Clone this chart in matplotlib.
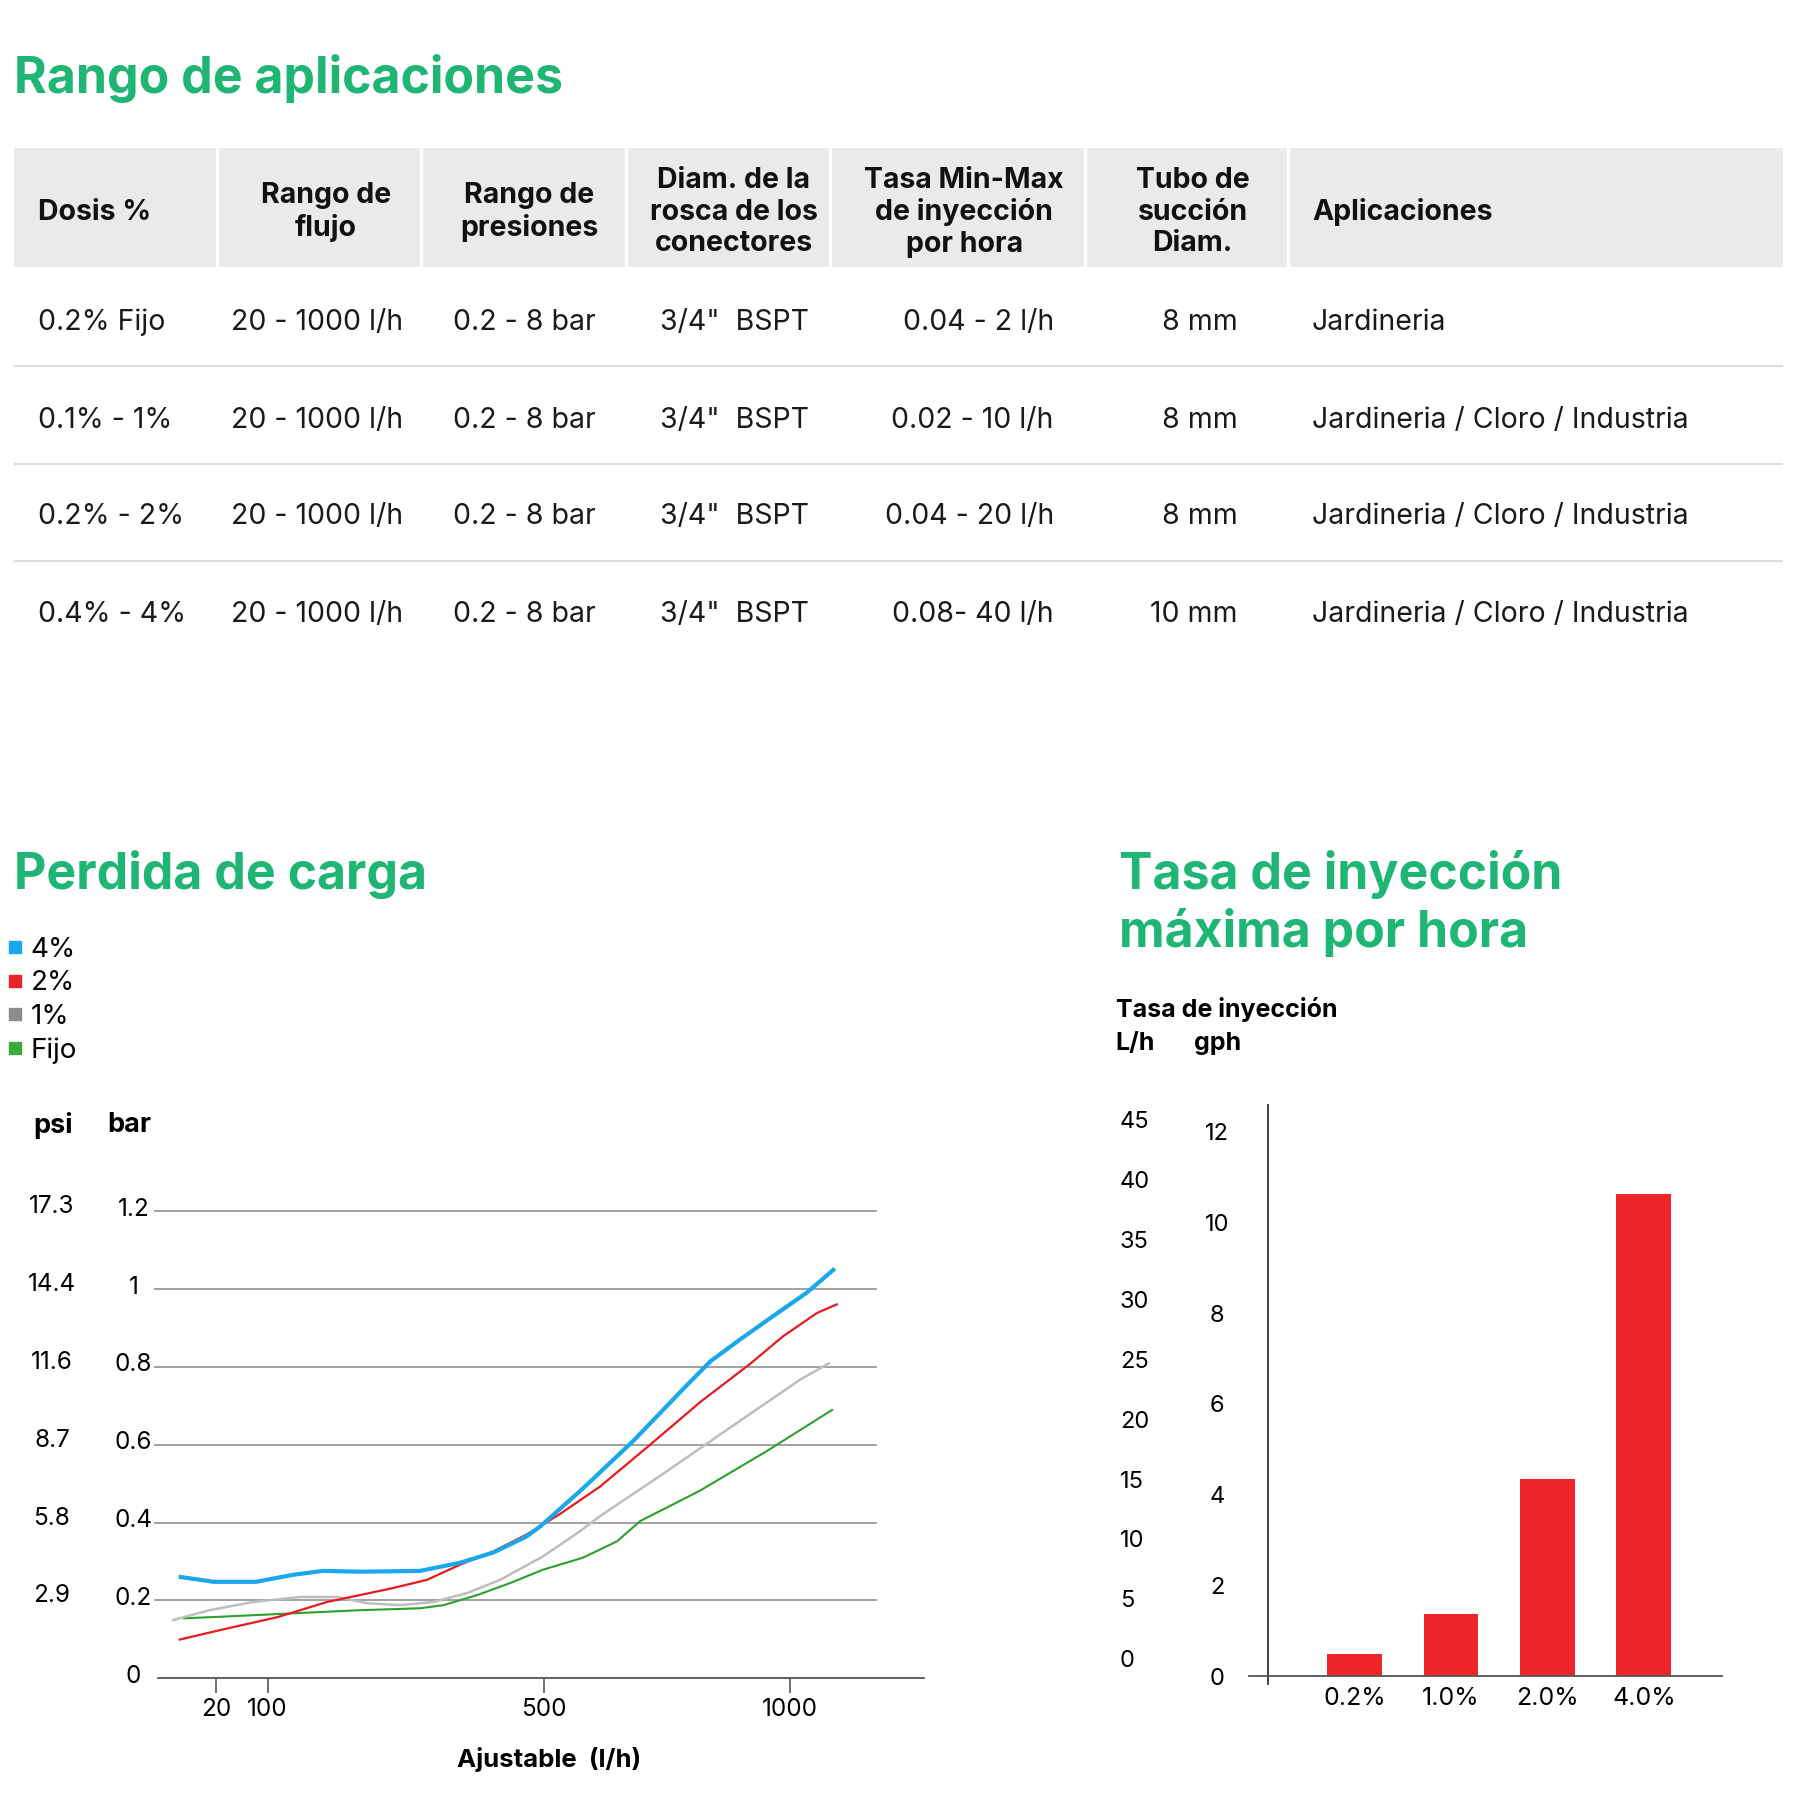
import numpy as np
import matplotlib.pyplot as plt
from matplotlib.lines import Line2D
from matplotlib.patches import Rectangle
from matplotlib.transforms import ScaledTranslation

plt.rcParams['font.family'] = ['Inter', 'DejaVu Sans']

verde = '#1fb574'
S = 1568.0  # coordenadas de la maqueta (se escalan a 1800 px)

# ---- tabla "Rango de aplicaciones"
cabeceras = ['Dosis %', 'Rango de\nflujo', 'Rango de\npresiones',
             'Diam. de la\nrosca de los\nconectores',
             'Tasa Min-Max\nde inyección\npor hora', 'Tubo de\nsucción\nDiam.',
             'Aplicaciones']
dosis = ['0.2% Fijo', '0.1% - 1%', '0.2% - 2%', '0.4% - 4%']
flujo = ['20 - 1000 l/h', '20 - 1000 l/h', '20 - 1000 l/h', '20 - 1000 l/h']
presion = ['0.2 - 8 bar', '0.2 - 8 bar', '0.2 - 8 bar', '0.2 - 8 bar']
rosca = ['3/4"  BSPT', '3/4"  BSPT', '3/4"  BSPT', '3/4"  BSPT']
tasa = ['0.04 - 2 l/h', '0.02 - 10 l/h', '0.04 - 20 l/h', '0.08- 40 l/h']
tubo = ['8 mm', '8 mm', '8 mm', '10 mm']
aplicaciones = ['Jardineria', 'Jardineria / Cloro / Industria',
                'Jardineria / Cloro / Industria', 'Jardineria / Cloro / Industria']

# ---- "Perdida de carga" (caudal l/h, perdida bar)
q_4 = [3, 19, 82, 137, 180, 234, 321, 379, 427, 476, 495, 533, 580, 682, 783, 838, 899, 966, 1034, 1091]
p_4 = [0.261, 0.248, 0.248, 0.266, 0.276, 0.274, 0.276, 0.297, 0.323, 0.365, 0.39, 0.435, 0.488,
       0.610, 0.743, 0.814, 0.871, 0.931, 0.991, 1.053]
q_2 = [3, 37, 114, 186, 234, 282, 331, 379, 427, 476, 533, 615, 716, 817, 919, 986, 1055, 1097]
p_2 = [0.099, 0.128, 0.157, 0.196, 0.214, 0.232, 0.253, 0.292, 0.326, 0.370, 0.422, 0.493,
       0.600, 0.709, 0.808, 0.879, 0.939, 0.962]
q_1 = [0, 17, 77, 147, 201, 244, 292, 340, 389, 437, 499, 574, 615, 750, 884, 1020, 1081]
p_1 = [0.149, 0.175, 0.196, 0.209, 0.209, 0.193, 0.188, 0.196, 0.219, 0.253, 0.313, 0.378,
       0.417, 0.532, 0.649, 0.767, 0.811]
q_fijo = [5, 37, 137, 234, 321, 355, 404, 452, 499, 580, 649, 696, 817, 953, 1087]
p_fijo = [0.154, 0.159, 0.167, 0.175, 0.180, 0.188, 0.214, 0.245, 0.279, 0.310, 0.352, 0.404,
          0.482, 0.584, 0.691]
series = [('4%', q_4, p_4, '#1aa7ec', 3.0, '#1aa7ec'),
          ('2%', q_2, p_2, '#e8191f', 1.6, '#e8232a'),
          ('1%', q_1, p_1, '#bdbdbd', 1.8, '#8c8c8c'),
          ('Fijo', q_fijo, p_fijo, '#2ca02c', 1.5, '#3aaa3a')]
bar_ticks = [0, 0.2, 0.4, 0.6, 0.8, 1.0, 1.2]
bar_labels = ['0', '0.2', '0.4', '0.6', '0.8', '1', '1.2']
psi_labels = ['2.9', '5.8', '8.7', '11.6', '14.4', '17.3']
caudal_ticks = [20, 100, 500, 1000]

# ---- "Tasa de inyección máxima por hora"
dosis_barras = ['0.2%', '1.0%', '2.0%', '4.0%']
tasa_lh = [1.8, 5.2, 16.4, 40.2]
lh_ticks = [0, 5, 10, 15, 20, 25, 30, 35, 40, 45]
gph_ticks = [0, 2, 4, 6, 8, 10, 12]


def caja(x0, y0, x1, y1):
    return [x0 / S, 1 - y1 / S, (x1 - x0) / S, (y1 - y0) / S]


fig = plt.figure(figsize=(18, 18), dpi=100)
fondo = fig.add_axes([0, 0, 1, 1])
fondo.set_xlim(0, S)
fondo.set_ylim(S, 0)
fondo.axis('off')

# titulos
fondo.text(12, 68, 'Rango de aplicaciones', color=verde, fontsize=36, weight='bold', va='center')
fondo.text(12, 762, 'Perdida de carga', color=verde, fontsize=36, weight='bold', va='center')
fondo.text(975, 762, 'Tasa de inyección', color=verde, fontsize=36, weight='bold', va='center')
fondo.text(975, 812, 'máxima por hora', color=verde, fontsize=36, weight='bold', va='center')

# tabla
fondo.add_patch(Rectangle((12, 129), 1541, 104, color='#e9eaeb', lw=0))
fondo.vlines([189, 367, 545, 723, 945, 1122], 129, 233, color='white', lw=2.5)
fondo.hlines([319, 404, 489], 12, 1553, color='#dcdcdc', lw=1.5)
cab_x = [33, 284, 461, 639, 840, 1039, 1143]
cab_ha = ['left', 'center', 'center', 'center', 'center', 'center', 'left']
for x, h, t in zip(cab_x, cab_ha, cabeceras):
    fondo.text(x, 185, t, ha=h, va='center', ma='center', fontsize=20.5, weight='bold',
               linespacing=1.22, color='#111111')
columnas = [(dosis, 33, 'left'), (flujo, 276, 'center'), (presion, 457, 'center'),
            (rosca, 640, 'center'), (tasa, 918, 'right'), (tubo, 1078, 'right'),
            (aplicaciones, 1143, 'left')]
filas_y = [281, 366, 450, 535]
for textos, x, h in columnas:
    for y, t in zip(filas_y, textos):
        fondo.text(x, y, t, ha=h, va='center', fontsize=20.5, color='#1a1a1a')

# ---- grafico de lineas
pos_ancla = [62, 172, 216, 267.5, 543.5, 790, 1036.5]
flujo_ancla = [-50, 0, 20, 100, 500, 1000, 1500]


def adelante(q):
    return np.interp(q, flujo_ancla, pos_ancla)


def atras(p):
    return np.interp(p, pos_ancla, flujo_ancla)


ax = fig.add_axes(caja(138, 1021.3, 805, 1462))
ax.set_xscale('function', functions=(adelante, atras))
ax.set_xlim(-6.2, 1272)
ax.set_ylim(0, 1.3)
for v in bar_ticks[1:]:
    ax.axhline(v, xmin=-0.005, xmax=0.937, color='#9a9a9a', lw=1.3, clip_on=False)
for nombre, q, p, c, lw, _ in series[::-1]:
    ax.plot(q, p, color=c, lw=lw, solid_capstyle='butt')
for s in ['top', 'right', 'left']:
    ax.spines[s].set_visible(False)
ax.spines['bottom'].set_color('#555555')
ax.spines['bottom'].set_linewidth(1.3)
ax.set_xticks(caudal_ticks, [str(t) for t in caudal_ticks])
ax.tick_params(axis='x', length=11, width=1.2, color='#555555', labelsize=17.5, pad=3)
ax.set_yticks(bar_ticks, bar_labels)
ax.tick_params(axis='y', length=0, labelsize=17.5, pad=18)
subir = ScaledTranslation(0, 3.3 / 72, fig.dpi_scale_trans)
for lab in ax.get_yticklabels():
    lab.set_horizontalalignment('center')
    lab.set_transform(lab.get_transform() + subir)
for v, t in zip(bar_ticks[1:], psi_labels):
    ax.text(-0.139, v, t, transform=ax.get_yaxis_transform() + subir,
            ha='center', va='center', fontsize=17.5)
fondo.text(46, 980, 'psi', ha='center', va='center', fontsize=19.5, weight='bold')
fondo.text(113, 980, 'bar', ha='center', va='center', fontsize=19.5, weight='bold')
fondo.text(478, 1533, 'Ajustable  (l/h)', ha='center', va='center', fontsize=18.5, weight='bold')

manejadores = [Line2D([], [], ls='none', marker='s', markersize=9, color=s[5]) for s in series]
fig.legend(manejadores, [s[0] for s in series], loc='upper left',
           bbox_to_anchor=(6 / S, 1 - 816 / S), frameon=False, fontsize=20,
           handlelength=0.6, handletextpad=0.25, labelspacing=0.27, borderpad=0,
           borderaxespad=0)

# ---- grafico de barras
bx = fig.add_axes(caja(1088, 963, 1500, 1460))
bx.set_xlim(-1.095, 3.81)
bx.set_ylim(0, 47.6)
bx.bar(range(len(tasa_lh)), tasa_lh, width=0.57, color='#ee2529')
bx.axvline(-0.893, ymin=-0.014, ymax=1, color='#333333', lw=1.3, clip_on=False)
for s in ['top', 'right', 'left']:
    bx.spines[s].set_visible(False)
bx.spines['bottom'].set_color('#555555')
bx.spines['bottom'].set_linewidth(1.3)
bx.set_xticks(range(len(dosis_barras)), dosis_barras)
bx.tick_params(axis='x', length=0, labelsize=18, pad=8)
bx.set_yticks(lh_ticks, [str(t) for t in lh_ticks])
bx.tick_params(axis='y', length=0, labelsize=17, pad=93)
desplazar = ScaledTranslation(0, 12.4 / 72, fig.dpi_scale_trans)
for lab in bx.get_yticklabels():
    lab.set_horizontalalignment('left')
    lab.set_transform(lab.get_transform() + desplazar)
gx = bx.secondary_yaxis('left', functions=(lambda l: l / 3.785, lambda g: g * 3.785))
gx.set_yticks(gph_ticks, [str(t) for t in gph_ticks])
gx.spines['left'].set_visible(False)
gx.tick_params(axis='y', length=0, labelsize=17, pad=23)
for lab in gx.get_yticklabels():
    lab.set_horizontalalignment('center')
fondo.text(972, 879, 'Tasa de inyección', va='center', fontsize=18, weight='bold')
fondo.text(972, 909, 'L/h', va='center', fontsize=18, weight='bold')
fondo.text(1040, 909, 'gph', va='center', fontsize=18, weight='bold')

fig.savefig('out.png', dpi=100)
